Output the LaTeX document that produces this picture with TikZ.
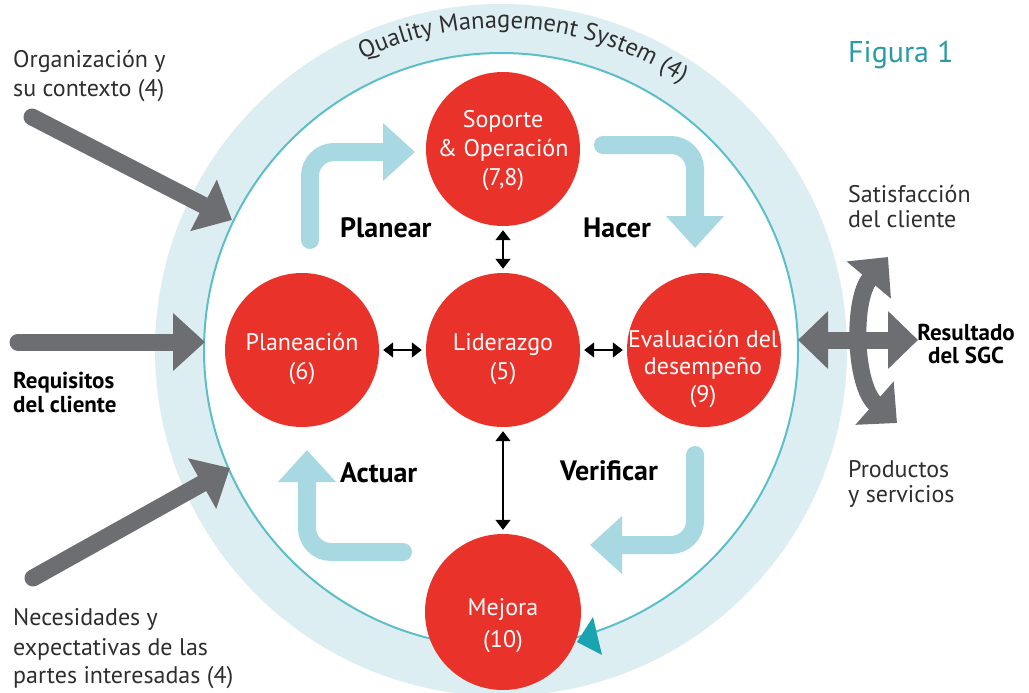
\documentclass[tikz,border=0pt]{standalone}
\usepackage{fontspec}
\setmainfont{PT Sans}
\usetikzlibrary{arrows.meta,decorations.text}
\definecolor{band}{HTML}{DDEEF3}
\definecolor{ring}{HTML}{5CBFC7}
\definecolor{lblue}{HTML}{A8D8E2}
\definecolor{garrow}{HTML}{6D6E71}
\definecolor{redc}{HTML}{E9322A}
\definecolor{tealtri}{HTML}{1AA3B1}
\definecolor{figteal}{HTML}{2A9BA5}
\definecolor{txt}{HTML}{2E2E2E}
\begin{document}
\begin{tikzpicture}[x=1pt,y=-1pt,
  redcirc/.style={circle, fill=redc, minimum size=154pt, inner sep=0pt},
  ctext/.style={anchor=base, text=white, font=\fontsize{24}{28}\selectfont, inner sep=0pt},
  body/.style={anchor=base west, text=txt, font=\fontsize{24}{29}\selectfont, inner sep=0pt},
  bodyb/.style={anchor=base west, text=black, font=\bfseries\fontsize{23}{27}\selectfont, inner sep=0pt},
  phase/.style={anchor=base west, text=black, font=\bfseries\fontsize{28}{32}\selectfont, inner sep=0pt},
  cyc/.style={line width=18pt, draw=lblue, rounded corners=24pt, line cap=round, -{Triangle[length=32pt,width=56pt]}},
  inarrow/.style={line width=17pt, draw=garrow, line cap=round, -{Triangle[length=32pt,width=56pt]}},
  outarrow/.style={line width=17pt, draw=garrow, {Triangle[length=30pt,width=56pt]}-{Triangle[length=30pt,width=56pt]}},
  link/.style={line width=1.6pt, draw=black, {Triangle[length=10pt,width=15pt]}-{Triangle[length=10pt,width=15pt]}, shorten <=4pt, shorten >=4pt}
]
\useasboundingbox (0,0) rectangle (1029,693);
% system rings
\fill[band] (501,350) circle[radius=346pt];
\filldraw[fill=white, draw=ring, line width=2pt] (501,350) circle[radius=297pt];
\path[decorate, decoration={text along path, text align=center,
   text={|\fontsize{24.5}{24}\selectfont\color{txt}|Quality Management System (4)}}]
   (294,103.3) .. controls (427.9,-9.1) and (627,6) .. (742.5,137.1);
% PDCA cycle arrows
\draw[cyc] (310,240) -- (310,152) -- (415,152);
\draw[cyc] (603,145) -- (695,145) -- (695,248);
\draw[cyc] (695,455) -- (695,545) -- (590,545);
\draw[cyc] (403,552) -- (307,552) -- (307,450);
% inputs
\draw[inarrow] (32,117) -- (232,220);
\draw[inarrow] (18,342) -- (205,342);
\draw[inarrow] (33,578) -- (230,468);
% outputs
\draw[outarrow] (798,340) -- (918,340);
\draw[outarrow] (888,257) .. controls (852,300) and (854,385) .. (897,423);
% red circles
\node[redcirc] (sop) at (503,149) {};
\node[redcirc] (plan) at (302,350) {};
\node[redcirc] (lid) at (503,350) {};
\node[redcirc] (eval) at (704,350) {};
\node[redcirc, minimum size=156pt] (mej) at (503,612) {};
\fill[tealtri] (577,642) -- (593,617) -- (602,655) -- cycle;
% links
\draw[link] (sop) -- (lid);
\draw[link] (plan) -- (lid);
\draw[link] (lid) -- (eval);
\draw[link] (lid) -- (mej);
% circle labels
\node[ctext] (sopa) at (503,128) {Soporte};
\node[ctext] (sopb) at (503,157) {\& Operación};
\node[ctext] (sopc) at (503,185) {(7,8)};
\node[ctext] (plana) at (302,350) {Planeación};
\node[ctext] (planb) at (302,379) {(6)};
\node[ctext] (lida) at (503,350) {Liderazgo};
\node[ctext] (lidb) at (503,379) {(5)};
\node[ctext] (evala) at (703,347) {Evaluación del};
\node[ctext] (evalb) at (703,374) {desempeño};
\node[ctext] (evalc) at (703,402) {(9)};
\node[ctext] (meja) at (503,615) {Mejora};
\node[ctext] (mejb) at (503,647) {(10)};
% phase labels
\node[phase] (pl) at (340,237) {Planear};
\node[phase] (ha) at (583,237) {Hacer};
\node[phase] (ac) at (340,482) {Actuar};
\node[phase] (ve) at (560,480) {Verificar};
% side texts
\node[body] (org1) at (13,68) {Organización y};
\node[body] (org2) at (13,97) {su contexto (4)};
\node[bodyb] (req1) at (13,388) {Requisitos};
\node[bodyb] (req2) at (13,412) {del cliente};
\node[body] (nec1) at (13,625) {Necesidades y};
\node[body] (nec2) at (13,655) {expectativas de las};
\node[body] (nec3) at (13,683) {partes interesadas (4)};
\node[body] (sat1) at (848,202) {Satisfacción};
\node[body] (sat2) at (848,227) {del cliente};
\node[body] (pro1) at (848,477) {Productos};
\node[body] (pro2) at (848,502) {y servicios};
\node[bodyb, anchor=base] (res1) at (966,340) {Resultado};
\node[bodyb, anchor=base] (res2) at (966,363) {del SGC};
\node[anchor=base west, inner sep=0pt, text=figteal, font=\fontsize{30}{34}\selectfont] (fig) at (848,63) {Figura 1};
\end{tikzpicture}
\end{document}
